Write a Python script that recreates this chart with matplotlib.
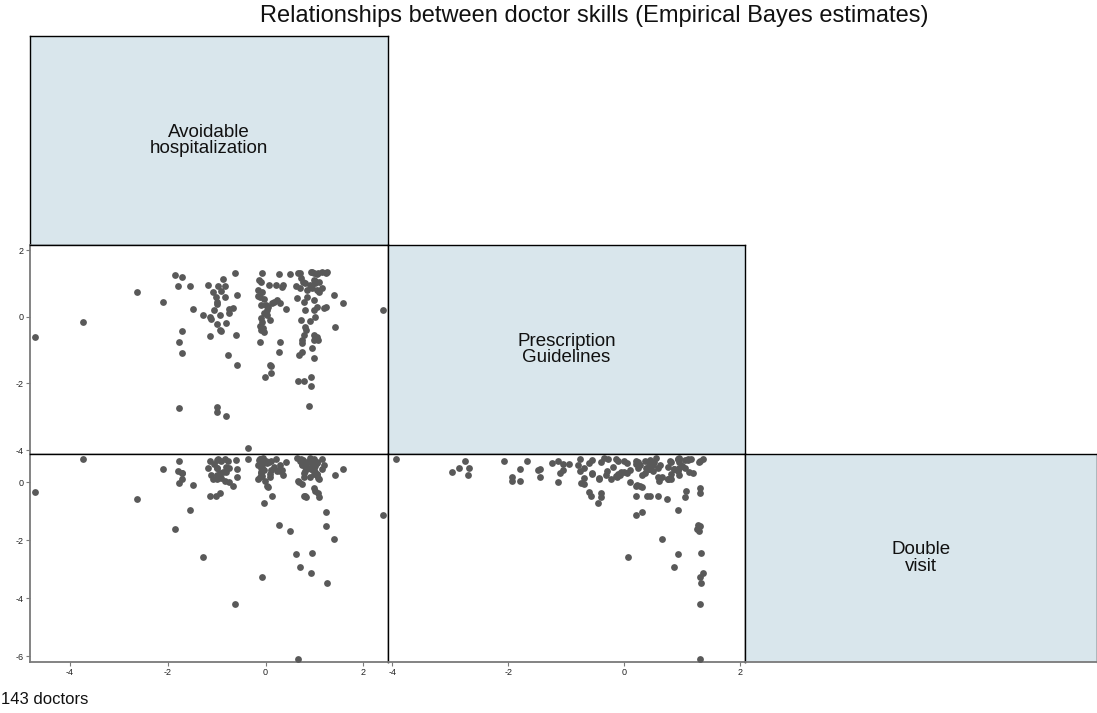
import numpy as np
import matplotlib
matplotlib.use('Agg')
import matplotlib.pyplot as plt

plt.rcParams['font.family'] = ['Liberation Sans', 'DejaVu Sans']
plt.rcParams['axes.unicode_minus'] = False

# Empirical Bayes estimates per doctor (read off the scatter matrix)
avoidable = [
    -4.72, -3.73, -2.64, -2.09, -1.85, -1.80, -1.70, -1.55, -1.71, -1.77,
    -1.70, -1.78, -1.48, -1.28, -1.18, -1.14, -1.12, -1.14, -1.07, -1.02,
    -1.00, -1.00, -0.97, -0.87, -0.83, -0.94, -0.99, -0.94, -0.91, -0.80,
    -0.76, -1.00, -1.00, -0.80, -0.74, -0.67, -0.63, -0.61, -0.59, -0.36,
    -0.82, -0.75, -1.05, -0.59, -0.92,
    -0.12, -0.08, -0.14, -0.10, -0.15, -0.07, -0.11, -0.03, -0.10, 0.00,
    0.03, -0.03, -0.10, -0.07, -0.12, -0.10, -0.03, 0.10, 0.14, 0.05,
    0.07, 0.09, 0.12, 0.12, -0.01, 0.17, -0.15, -0.05, 0.02,
    0.27, 0.22, 0.34, 0.24, 0.42, 0.29, 0.27, 0.49, 0.30, 0.35,
    0.62, 0.67, 0.73, 0.70, 0.76, 0.85, 0.84, 0.78, 0.80, 0.72,
    0.82, 0.78, 0.75, 0.75, 0.68, 0.75, 0.67, 0.78, 0.92, 0.92,
    0.89, 0.70, 0.80, 0.65, 0.80,
    0.93, 0.95, 1.05, 1.00, 1.02, 0.95, 1.05, 1.10, 1.00, 0.99,
    1.02, 0.91, 1.00, 1.05, 1.08, 1.00, 0.95, 0.99, 1.08, 1.09,
    1.02, 0.99, 0.90, 1.05,
    1.26, 1.23, 1.20, 1.24, 1.40, 1.42, 1.59, 2.41, 1.16, 1.15,
]
prescription = [
    -0.60, -0.15, 0.73, 0.43, 1.26, 0.92, 1.18, 0.92, -0.44, -0.75,
    -1.10, -2.75, 0.22, 0.06, 0.95, 0.00, -0.08, -0.57, 0.75, 0.58,
    0.45, 0.38, 0.92, 1.12, 0.92, 0.05, -0.23, -0.40, -0.43, -0.20,
    -1.15, -2.70, -2.85, -2.97, 0.23, 0.27, 1.30, -0.55, -1.45, -3.94,
    0.60, 0.10, 0.20, 0.65, 0.78,
    -0.77, 1.30, 1.10, 1.05, 0.80, 0.75, 0.58, 0.52, 0.35, 0.35,
    0.20, 0.10, -0.05, -0.15, -0.28, -0.40, -0.45, -0.10, 0.40, 0.30,
    0.95, -1.45, -1.48, -1.68, -1.80, 0.45, 0.62, -0.35, 0.05,
    1.27, 0.95, 0.90, 0.50, 0.23, -0.77, -1.05, 1.28, 0.42, 0.95,
    0.93, 1.31, 1.15, 0.85, 1.05, 0.80, 0.58, 0.45, 0.20, -0.10,
    -0.40, -0.55, -0.70, -0.80, -1.15, -1.05, -1.93, -1.93, -1.80, -2.08,
    -2.67, 1.30, 1.00, 0.55, -0.30,
    1.35, 1.33, 1.28, 1.10, 1.00, 0.85, 0.80, 0.75, 0.50, 0.20,
    0.00, -0.12, -0.55, -0.60, -0.70, -0.70, -0.95, -1.24, 1.30, 1.05,
    1.07, 1.30, 0.95, 0.30,
    1.33, 0.30, 0.27, 1.30, 0.65, -0.32, 0.42, 0.20, 0.85, 1.35,
]
double_visit = [
    -0.32, 0.81, -0.59, 0.45, -1.60, 0.40, 0.33, -0.96, 0.10, -0.03,
    0.33, 0.74, -0.09, -2.57, 0.48, 0.72, 0.25, -0.47, 0.10, -0.47,
    0.78, 0.48, 0.80, 0.37, 0.80, 0.31, 0.10, -0.38, 0.14, 0.54,
    0.74, 0.25, 0.48, 0.37, 0.48, -0.12, -4.20, 0.77, 0.45, 0.81,
    0.06, 0.02, 0.62, 0.17, 0.72,
    0.80, -3.26, 0.77, 0.48, 0.12, 0.54, 0.20, 0.71, 0.31, 0.74,
    -0.12, 0.43, 0.37, 0.22, 0.80, 0.71, -0.73, 0.29, -0.47, -0.15,
    0.71, 0.20, 0.43, 0.74, 0.06, 0.54, 0.60, 0.85, 0.65,
    -1.46, 0.80, 0.43, 0.40, 0.71, 0.40, 0.43, -1.69, 0.60, 0.25,
    -2.46, -6.10, 0.80, -2.92, 0.77, 0.71, 0.48, -0.46, -0.47, 0.74,
    -0.52, 0.31, -0.07, 0.60, 0.02, 0.62, 0.05, 0.20, 0.45, 0.72,
    0.48, 0.75, 0.55, 0.85, 0.40,
    -3.12, -2.45, 0.70, 0.80, 0.55, 0.45, 0.30, 0.12, 0.60, 0.75,
    0.35, 0.20, 0.30, 0.65, 0.15, 0.50, 0.62, 0.68, -0.38, -0.52,
    -0.29, -0.18, 0.85, 0.25,
    -3.48, -1.02, 0.60, -1.50, -1.97, 0.25, 0.46, -1.14, 0.46, 0.80,
]

labels = ['Avoidable\nhospitalization', 'Prescription\nGuidelines', 'Double\nvisit']
variables = [avoidable, prescription, double_visit]
ticks = [[-4, -2, 0, 2], [-4, -2, 0, 2], [-6, -4, -2, 0]]
# axis ranges as drawn (x range of columns / y range of rows)
xlims = [(-4.82, 2.505), (-4.074, 2.081), None]
ylims = [None, (-4.12, 2.153), (-6.207, 0.978)]

W, H = 1097, 713
fig = plt.figure(figsize=(W / 100, H / 100), dpi=100)

cols = [30, 388, 745, 1097]
rows = [36, 245, 454, 662]

def add_panel(r, c):
    x0, x1 = cols[c], cols[c + 1]
    y0, y1 = rows[r], rows[r + 1]
    return fig.add_axes([x0 / W, 1 - y1 / H, (x1 - x0) / W, (y1 - y0) / H])

gray = '#7a7a7a'

for i in range(3):
    for j in range(i + 1):
        ax = add_panel(i, j)
        for s in ax.spines.values():
            s.set_color('black')
            s.set_linewidth(1.0)
        if i == j:
            ax.set_facecolor('#d9e6ec')
            ax.set_xticks([])
            ax.set_yticks([])
            ax.text(0.5, 0.5, labels[i], transform=ax.transAxes, ha='center', va='center',
                    fontsize=13.5, linespacing=0.95, color='#111111')
            if i == 2:
                ax.spines['bottom'].set_color(gray)
                ax.spines['bottom'].set_linewidth(1.3)
            continue
        ax.scatter(variables[j], variables[i], s=24, color='#595959', linewidths=0, zorder=3)
        ax.set_xlim(xlims[j])
        ax.set_ylim(ylims[i])
        ax.tick_params(length=3, width=0.8, color=gray, labelsize=6.5, pad=1.5, labelcolor='#222222')
        if j == 0:
            ax.set_yticks(ticks[i])
            ax.spines['left'].set_color(gray)
            ax.spines['left'].set_linewidth(1.3)
        else:
            ax.set_yticks([])
        if i == 2:
            ax.set_xticks(ticks[j])
            ax.spines['bottom'].set_color(gray)
            ax.spines['bottom'].set_linewidth(1.3)
        else:
            ax.set_xticks([])

fig.text(594 / W, 1 - 16 / H, 'Relationships between doctor skills (Empirical Bayes estimates)',
         ha='center', va='center', fontsize=17, color='#111111')
fig.text(1 / W, 1 - 700 / H, '143 doctors', ha='left', va='center', fontsize=12, color='#111111')

fig.savefig('out.png', dpi=100)
